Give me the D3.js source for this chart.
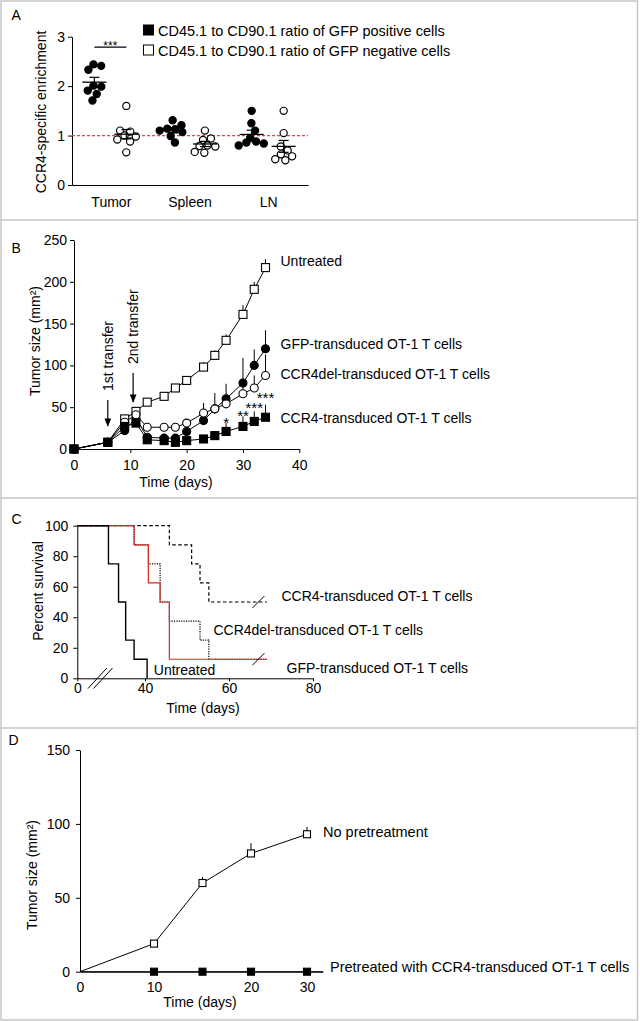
<!DOCTYPE html>
<html>
<head>
<meta charset="utf-8">
<script src="https://cdn.jsdelivr.net/npm/d3@7"></script>
<style>
  body { margin: 0; background: #fff; }
  svg { display: block; font-family: "Liberation Sans", Arial, Helvetica, sans-serif; }
</style>
</head>
<body>
<div id="chart"></div>
<script>
// ---------- panel A: enrichment per site
const sites = ["Tumor", "Spleen", "LN"];
const gfpPos = [
  [2.44, 2.41, 2.33, 2.01, 1.99, 1.91, 1.84, 1.71],
  [1.31, 1.21, 1.14, 1.13, 1.10, 1.07, 0.99, 0.86],
  [1.50, 1.25, 1.10, 0.95, 0.88, 0.86, 0.84, 0.80]
];
const gfpNeg = [
  [1.60, 1.10, 1.08, 1.00, 0.98, 0.92, 0.88, 0.66],
  [1.10, 0.94, 0.91, 0.80, 0.79, 0.78, 0.67, 0.65],
  [1.50, 1.05, 0.78, 0.70, 0.62, 0.58, 0.52, 0.50]
];
const legendA = ["CD45.1 to CD90.1 ratio of GFP positive cells", "CD45.1 to CD90.1 ratio of GFP negative cells"];

// ---------- panel B: tumor growth
const dayB = [0, 6, 9, 11, 13, 16, 18, 20, 23, 25, 27, 30, 32, 34];
const untreatedB = [0, 8, 36, 45, 56, 63, 73, 82, 98, 112, 130, 161, 191, 217];
const untreatedErr = [0, 0, 2, 3, 2, 3, 3, 4, 6, 6, 7, 11, 9, 10];
const gfpB = [0, 8, 22, 37, 14, 13, 13, 21, 34, 48, 60, 79, 100, 120];
const gfpErr = [0, 0, 2, 3, 2, 2, 2, 4, 8, 19, 18, 30, 19, 22];
const ccr4delB = [0, 8, 32, 41, 26, 26, 26, 31, 43, 48, 54, 66, 73, 88];
const ccr4delErr = [0, 0, 2, 3, 2, 2, 3, 4, 12, 5, 6, 10, 15, 25];
const ccr4B = [0, 8, 27, 31, 11, 10, 8, 10, 12, 16, 21, 27, 33, 38];
const ccr4Err = [0, 0, 2, 2, 2, 2, 2, 2, 3, 5, 10, 12, 12, 15];
const namesB = ["Untreated", "GFP-transduced OT-1 T cells", "CCR4del-transduced OT-1 T cells", "CCR4-transduced OT-1 T cells"];
const labelAtB = [219, 120, 84, 31];
const starDays = [27, 30, 32, 34];
const starText = ["*", "**", "***", "***"];
const starAt = [35, 43, 53, 65];
const transferDays = [6, 10.5];
const transferText = ["1st transfer", "2nd transfer"];

// ---------- panel C: survival (day of death per mouse, censored at end)
const untreatedDeaths = [31.3, 31.3, 33.7, 33.7, 35.4, 35.4, 37.4, 40.5];
const untreatedCens = [];
const gfpDeaths = [37.4, 40.8, 40.8, 43.6, 45.8, 45.8, 45.8];
const gfpCens = [69];
const ccr4delDeaths = [37.4, 40.8, 43.6, 43.6, 45.8, 53.1, 55.2];
const ccr4delCens = [69];
const ccr4Deaths = [45.8, 51.1, 53.1, 55.2];
const ccr4Cens = [69, 69, 69, 69];
const breakDays = [23.5, 30];
const censorMarkDay = 67;

// ---------- panel D: rechallenge
const dayD = [0, 10, 15, 20, 30];
const noPreD = [0, 19, 60, 80, 93];
const noPreErr = [0, 0, 4, 7, 5];
const preD = [0, 0, 0, 0, 0];

const W = 640, H = 1021;
const svg = d3.select("#chart").append("svg").attr("width", W).attr("height", H);
svg.append("rect").attr("width", W).attr("height", H).attr("fill", "#fff");

// frame and panel separators
svg.append("rect").attr("x", 1).attr("y", 1).attr("width", 636.5).attr("height", 1019)
  .attr("fill", "none").attr("stroke", "#c6c6c6").attr("stroke-width", 1.5);
[220, 498, 728].forEach(y => {
  svg.append("line").attr("x1", 1).attr("x2", 637.5).attr("y1", y).attr("y2", y)
    .attr("stroke", "#c6c6c6").attr("stroke-width", 1.5);
});

function axisStyle(g) {
  g.attr("font-size", 14).attr("font-family", null);
  g.selectAll("text").attr("fill", "#000");
  g.selectAll("line,path").attr("stroke", "#000").attr("stroke-width", 1);
}

function addText(x, y, s, opts = {}) {
  const t = svg.append("text").attr("x", x).attr("y", y).attr("font-size", opts.size || 14)
    .attr("fill", "#000").text(s);
  if (opts.anchor) t.attr("text-anchor", opts.anchor);
  if (opts.rotate) t.attr("transform", `rotate(-90,${x},${y})`);
  return t;
}

// ================= panel A =================
addText(11.5, 20, "A");
const yA = d3.scaleLinear().domain([0, 3]).range([185, 36.7]);
const xA = d3.scaleBand().domain(sites).range([72, 308]);

svg.append("g").attr("transform", "translate(72,0)")
  .call(d3.axisLeft(yA).tickValues([0, 1, 2, 3]).tickFormat(d3.format("d"))
    .tickSize(4).tickPadding(3).tickSizeOuter(0))
  .call(axisStyle);
svg.append("g").attr("transform", "translate(0,185)")
  .call(d3.axisBottom(xA).tickSize(0).tickPadding(12).tickSizeOuter(0))
  .call(axisStyle);
addText(46, 112, "CCR4-specific enrichment", { anchor: "middle", rotate: true });

svg.append("line").attr("x1", 72).attr("x2", 308).attr("y1", yA(1)).attr("y2", yA(1))
  .attr("stroke", "#e0474c").attr("stroke-width", 1.3).attr("stroke-dasharray", "3,2");

// simple beeswarm so overlapping dots spread sideways
function swarm(vals, cx, r) {
  const nodes = vals.map(v => ({ v, x: cx, y: yA(v) }));
  d3.forceSimulation(nodes)
    .force("x", d3.forceX(cx).strength(0.04))
    .force("y", d3.forceY(d => yA(d.v)).strength(1))
    .force("c", d3.forceCollide(r))
    .stop().tick(200);
  return nodes;
}

const rA = 3.6;
sites.forEach((s, i) => {
  const c = xA(s) + xA.bandwidth() / 2;
  [[gfpPos[i], c - 17, true], [gfpNeg[i], c + 15, false]].forEach(([vals, gc, filled]) => {
    const m = d3.mean(vals);
    const sem = d3.deviation(vals) / Math.sqrt(vals.length);
    swarm(vals, gc, rA * 1.1).forEach(d => {
      svg.append("circle").attr("cx", d.x).attr("cy", yA(d.v)).attr("r", rA)
        .attr("fill", filled ? "#000" : "#fff").attr("stroke", "#000").attr("stroke-width", 1.2);
    });
    svg.append("line").attr("x1", gc - 12).attr("x2", gc + 12).attr("y1", yA(m)).attr("y2", yA(m))
      .attr("stroke", "#000").attr("stroke-width", 1.3);
    svg.append("line").attr("x1", gc).attr("x2", gc).attr("y1", yA(m - sem)).attr("y2", yA(m + sem))
      .attr("stroke", "#000").attr("stroke-width", 1.2);
    [m - sem, m + sem].forEach(v => {
      svg.append("line").attr("x1", gc - 5).attr("x2", gc + 5).attr("y1", yA(v)).attr("y2", yA(v))
        .attr("stroke", "#000").attr("stroke-width", 1.2);
    });
  });
});

// significance bar over tumor
{
  const c = xA("Tumor") + xA.bandwidth() / 2;
  svg.append("line").attr("x1", c - 17).attr("x2", c + 15).attr("y1", yA(2.79)).attr("y2", yA(2.79))
    .attr("stroke", "#000").attr("stroke-width", 1.2);
  addText(c - 1, yA(2.79) + 3, "***", { anchor: "middle", size: 12 });
}

// legend A
legendA.forEach((s, i) => {
  svg.append("rect").attr("x", 143.5).attr("y", 25 + i * 20).attr("width", 10).attr("height", 10)
    .attr("fill", i === 0 ? "#000" : "#fff").attr("stroke", "#000").attr("stroke-width", 1);
  addText(158, 35.7 + i * 20, s, { size: 14.5 });
});

// ================= panel B =================
addText(11.5, 253.3, "B");
const xB = d3.scaleLinear().domain([0, 40]).range([74, 299.3]);
const yB = d3.scaleLinear().domain([0, 250]).range([449, 240]);
svg.append("g").attr("transform", "translate(74,0)")
  .call(d3.axisLeft(yB).tickValues(d3.range(0, 251, 50)).tickSize(4).tickPadding(3).tickSizeOuter(0))
  .call(axisStyle);
svg.append("g").attr("transform", "translate(0,449)")
  .call(d3.axisBottom(xB).tickValues(d3.range(0, 41, 10)).tickSize(4).tickPadding(7).tickSizeOuter(0))
  .call(axisStyle);
addText(40, 341, "Tumor size (mm²)", { anchor: "middle", rotate: true });
addText(176, 487, "Time (days)", { anchor: "middle" });

const seriesB = [
  { vals: untreatedB, err: untreatedErr, shape: "square", filled: false },
  { vals: gfpB, err: gfpErr, shape: "circle", filled: true },
  { vals: ccr4delB, err: ccr4delErr, shape: "circle", filled: false },
  { vals: ccr4B, err: ccr4Err, shape: "square", filled: true }
];
const lineB = d3.line().x((d, i) => xB(dayB[i])).y(d => yB(d));

function marker(x, y, shape, filled, size) {
  if (shape === "square") {
    svg.append("rect").attr("x", x - size / 2).attr("y", y - size / 2).attr("width", size).attr("height", size)
      .attr("fill", filled ? "#000" : "#fff").attr("stroke", "#000").attr("stroke-width", 1.1);
  } else {
    svg.append("circle").attr("cx", x).attr("cy", y).attr("r", size / 2)
      .attr("fill", filled ? "#000" : "#fff").attr("stroke", "#000").attr("stroke-width", 1.1);
  }
}

seriesB.forEach(s => {
  svg.append("path").attr("d", lineB(s.vals)).attr("fill", "none").attr("stroke", "#000").attr("stroke-width", 1);
});
seriesB.forEach(s => {
  s.vals.forEach((v, i) => {
    if (s.err[i] > 0) {
      svg.append("line").attr("x1", xB(dayB[i])).attr("x2", xB(dayB[i]))
        .attr("y1", yB(v)).attr("y2", yB(v + s.err[i])).attr("stroke", "#000").attr("stroke-width", 1);
    }
  });
});
seriesB.forEach(s => {
  s.vals.forEach((v, i) => marker(xB(dayB[i]), yB(v), s.shape, s.filled, 8));
});

namesB.forEach((n, i) => addText(xB(34) + 15, yB(labelAtB[i]), n));
starDays.forEach((d, i) => addText(xB(d), yB(starAt[i]) + 8, starText[i], { anchor: "middle", size: 15 }));

// transfer arrows
svg.append("defs").append("marker").attr("id", "arr").attr("viewBox", "0 0 10 10")
  .attr("refX", 9).attr("refY", 5).attr("markerWidth", 7).attr("markerHeight", 7).attr("orient", "auto")
  .append("path").attr("d", "M0,1 L10,5 L0,9 Z").attr("fill", "#000");
const arrowSpan = [[400, 426], [373, 402]];
transferDays.forEach((d, i) => {
  svg.append("line").attr("x1", xB(d)).attr("x2", xB(d)).attr("y1", arrowSpan[i][0]).attr("y2", arrowSpan[i][1])
    .attr("stroke", "#000").attr("stroke-width", 1.2).attr("marker-end", "url(#arr)");
  addText(xB(d) + 5, arrowSpan[i][0] - 9, transferText[i], { rotate: true });
});

// ================= panel C =================
addText(11.5, 524, "C");
const xC = d3.scaleLinear().domain([0, 30, 80]).range([77.3, 103, 313]);
const yC = d3.scaleLinear().domain([0, 100]).range([678.3, 525.7]);
svg.append("g").attr("transform", "translate(77.3,0)")
  .call(d3.axisLeft(yC).tickValues(d3.range(0, 101, 20)).tickSize(4).tickPadding(5).tickSizeOuter(0))
  .call(axisStyle);
svg.append("g").attr("transform", "translate(0,678.3)")
  .call(d3.axisBottom(xC).tickValues([0, 40, 60, 80]).tickSize(3).tickPadding(2).tickSizeOuter(0))
  .call(axisStyle);
addText(43, 591, "Percent survival", { anchor: "middle", rotate: true });
addText(203, 713, "Time (days)", { anchor: "middle" });

breakDays.forEach(d => {
  svg.append("line").attr("x1", xC(d) - 9.5).attr("x2", xC(d) + 9.5).attr("y1", 688.5).attr("y2", 668)
    .attr("stroke", "#000").attr("stroke-width", 1);
});

function kaplan(deaths, cens) {
  const n = deaths.length + cens.length;
  let atRisk = n, s = 100;
  const pts = [[0, 100]];
  const times = Array.from(new Set(deaths.concat(cens))).sort((a, b) => a - b);
  times.forEach(t => {
    const d = deaths.filter(x => x === t).length;
    const c = cens.filter(x => x === t).length;
    if (d > 0) { s = s * (atRisk - d) / atRisk; pts.push([t, s]); }
    if (c > 0 && t === times[times.length - 1]) pts.push([t, s]);
    atRisk -= d + c;
  });
  return pts;
}

const stepC = d3.line().x(d => xC(d[0])).y(d => yC(d[1])).curve(d3.curveStepAfter);
const seriesC = [
  { pts: kaplan(ccr4Deaths, ccr4Cens), stroke: "#000", dash: "3.5,2.5", w: 1.2 },
  { pts: kaplan(ccr4delDeaths, ccr4delCens), stroke: "#000", dash: "1.2,1.2", w: 1.2 },
  { pts: kaplan(gfpDeaths, gfpCens), stroke: "#d42a2a", dash: null, w: 1.2 },
  { pts: kaplan(untreatedDeaths, untreatedCens), stroke: "#000", dash: null, w: 1.4 }
];
seriesC.forEach(s => {
  const p = svg.append("path").attr("d", stepC(s.pts)).attr("fill", "none")
    .attr("stroke", s.stroke).attr("stroke-width", s.w);
  if (s.dash) p.attr("stroke-dasharray", s.dash);
});
// slash marks on the long flat tails
[seriesC[0], seriesC[2]].forEach(s => {
  const v = s.pts[s.pts.length - 1][1];
  svg.append("line").attr("x1", xC(censorMarkDay) - 6).attr("x2", xC(censorMarkDay) + 6)
    .attr("y1", yC(v) + 6).attr("y2", yC(v) - 6).attr("stroke", "#000").attr("stroke-width", 1);
});
addText(xC(72.5), yC(50.7), "CCR4-transduced OT-1 T cells");
addText(xC(56.3), yC(28.4), "CCR4del-transduced OT-1 T cells");
addText(xC(73.7), yC(3.5), "GFP-transduced OT-1 T cells");
addText(xC(42.1), yC(2.2), "Untreated");

// ================= panel D =================
addText(8.5, 745, "D");
const xD = d3.scaleLinear().domain([0, 10, 20, 30, 32]).range([80, 154, 251, 307, 323]);
const yD = d3.scaleLinear().domain([0, 150]).range([971.7, 750]);
svg.append("g").attr("transform", "translate(80,0)")
  .call(d3.axisLeft(yD).tickValues([0, 50, 100, 150]).tickSize(4).tickPadding(6).tickSizeOuter(0))
  .call(axisStyle);
svg.append("g").attr("transform", "translate(0,971.7)")
  .call(d3.axisBottom(xD).tickValues([0, 10, 20, 30]).tickSize(0).tickPadding(10).tickSizeOuter(0))
  .call(axisStyle);
addText(37, 875, "Tumor size (mm²)", { anchor: "middle", rotate: true });
addText(200, 1006.5, "Time (days)", { anchor: "middle" });

const lineD = d3.line().x((d, i) => xD(dayD[i])).y(d => yD(d));
svg.append("path").attr("d", lineD(noPreD)).attr("fill", "none").attr("stroke", "#000").attr("stroke-width", 1);
svg.append("path").attr("d", lineD(preD)).attr("fill", "none").attr("stroke", "#000").attr("stroke-width", 1);
svg.append("line").attr("x1", xD(30)).attr("x2", xD(32)).attr("y1", yD(0)).attr("y2", yD(0))
  .attr("stroke", "#000").attr("stroke-width", 1);
noPreD.forEach((v, i) => {
  if (noPreErr[i] > 0) {
    svg.append("line").attr("x1", xD(dayD[i])).attr("x2", xD(dayD[i])).attr("y1", yD(v)).attr("y2", yD(v + noPreErr[i]))
      .attr("stroke", "#000").attr("stroke-width", 1);
  }
});
dayD.forEach((d, i) => {
  if (d === 0) return;
  marker(xD(d), yD(noPreD[i]), "square", false, 7);
  marker(xD(d), yD(preD[i]), "square", true, 7);
});
addText(xD(30) + 16, yD(noPreD[4]) + 3, "No pretreatment", { size: 14.5 });
addText(xD(32) + 7, yD(0), "Pretreated with CCR4-transduced OT-1 T cells", { size: 14.5 });
</script>
</body>
</html>
